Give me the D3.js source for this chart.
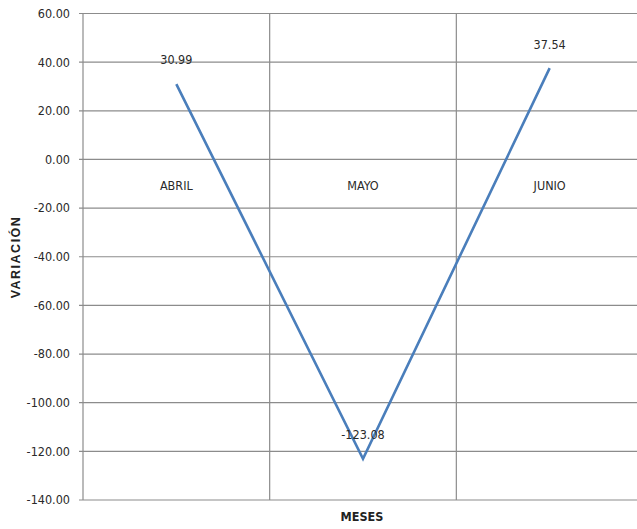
<!DOCTYPE html>
<html><head><meta charset="utf-8">
<script src="https://cdn.jsdelivr.net/npm/d3@7"></script>
<style>body{margin:0;background:#fff}svg{display:block}</style>
</head><body>
<script>
const categories = ["ABRIL", "MAYO", "JUNIO"];
const values = [30.99, -123.08, 37.54];
const valueLabels = ["30.99", "-123.08", "37.54"];
const yTicks = [60, 40, 20, 0, -20, -40, -60, -80, -100, -120, -140];

const W = 637, H = 529;
const m = {left: 83, top: 13.5, right: 643, bottom: 500};
const font = "'Liberation Sans Narrow','Arial Narrow','DejaVu Sans Condensed',sans-serif";
const svg = d3.select("body").append("svg").attr("width", W).attr("height", H);

const x = d3.scaleBand().domain(categories).range([m.left, m.right]);
const y = d3.scaleLinear().domain([-140, 60]).range([m.bottom, m.top]);
const fmt = d => d3.format(".2f")(d).replace("\u2212", "-");

// horizontal gridlines
svg.append("g").selectAll("line").data(yTicks).join("line")
  .attr("x1", m.left - 4).attr("x2", m.right)
  .attr("y1", d => y(d)).attr("y2", d => y(d))
  .attr("stroke", "#8c8c8c").attr("stroke-width", 1.2);

// vertical gridlines (category boundaries)
svg.append("g").selectAll("line").data(categories.slice(1)).join("line")
  .attr("x1", d => x(d)).attr("x2", d => x(d))
  .attr("y1", m.top).attr("y2", m.bottom)
  .attr("stroke", "#8c8c8c").attr("stroke-width", 1.2);

// y axis line
svg.append("line").attr("x1", m.left).attr("x2", m.left)
  .attr("y1", m.top).attr("y2", m.bottom)
  .attr("stroke", "#8c8c8c").attr("stroke-width", 1.2);

// y tick labels
svg.append("g").selectAll("text").data(yTicks).join("text")
  .attr("x", 70).attr("y", d => y(d)).attr("dy", "0.35em")
  .attr("text-anchor", "end").attr("font-family", font).attr("font-size", 12.5)
  .attr("fill", "#2a2a2a").text(fmt);

// category labels inside plot
svg.append("g").selectAll("text").data(categories).join("text")
  .attr("x", d => x(d) + x.bandwidth() / 2).attr("y", y(0) + 26)
  .attr("dy", "0.35em")
  .attr("text-anchor", "middle").attr("font-family", font).attr("font-size", 12.5)
  .attr("fill", "#2a2a2a").text(d => d);

// line
const pts = categories.map((c, i) => [x(c) + x.bandwidth() / 2, y(values[i])]);
svg.append("path").datum(pts)
  .attr("d", d3.line())
  .attr("fill", "none").attr("stroke", "#4a7ebb").attr("stroke-width", 2.6);

// data labels
svg.append("g").selectAll("text").data(categories).join("text")
  .attr("x", (d, i) => x(d) + x.bandwidth() / 2)
  .attr("y", (d, i) => y(values[i]) - 24).attr("dy", "0.35em")
  .attr("text-anchor", "middle").attr("font-family", font).attr("font-size", 12.5)
  .attr("fill", "#2a2a2a").text((d, i) => valueLabels[i]);

// axis titles
svg.append("text").attr("x", 362).attr("y", 517).attr("dy", "0.35em")
  .attr("text-anchor", "middle").attr("font-family", font).attr("font-size", 12.5)
  .attr("font-weight", "bold").attr("fill", "#222").text("MESES");
svg.append("text").attr("transform", "translate(16,257) rotate(-90)")
  .attr("dy", "0.35em")
  .attr("text-anchor", "middle").attr("font-family", "'Liberation Sans',Arial,sans-serif").attr("font-size", 12.5)
  .attr("letter-spacing", 1.5)
  .attr("font-weight", "bold").attr("fill", "#222").text("VARIACIÓN");
</script>
</body></html>
